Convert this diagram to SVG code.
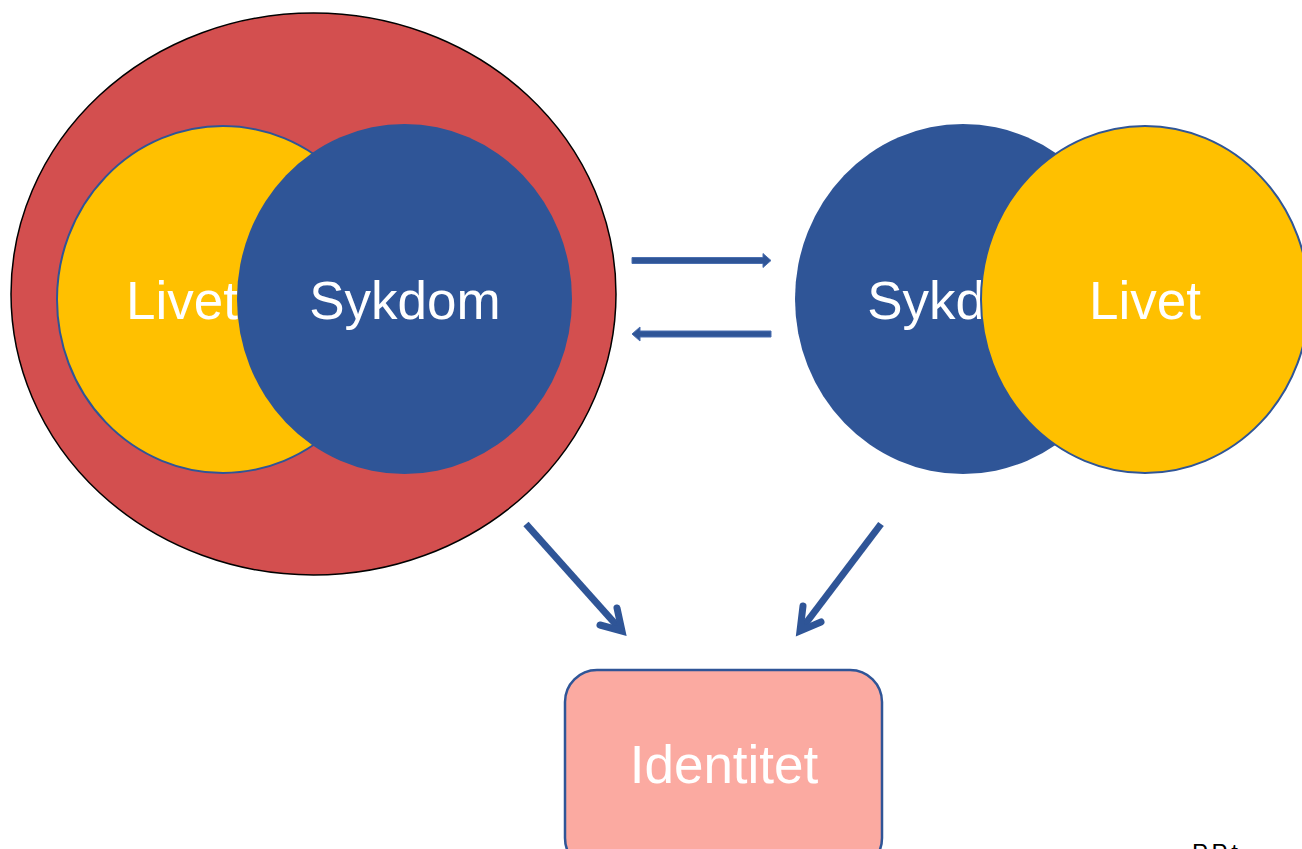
<svg xmlns="http://www.w3.org/2000/svg" width="1302" height="849" viewBox="0 0 1302 849">
<style>
.lbl{font-family:"Liberation Sans",Arial,sans-serif;font-size:53px;fill:#fff;text-anchor:middle}
.blue{fill:#2F5597}
.yel{fill:#FFC000;stroke:#2F5597;stroke-width:2}
.conn{stroke:#2F5597;stroke-width:7;fill:none;stroke-linecap:butt}
.head{stroke:#2F5597;stroke-width:7;fill:none;stroke-linecap:round;stroke-linejoin:miter}
.block{fill:#2F5597;stroke:#4A6FB0;stroke-width:1}
</style>
<rect width="1302" height="849" fill="#fff"/>
<g id="left-group">
<ellipse cx="313.5" cy="294" rx="302.5" ry="281" fill="#D34F4F" stroke="#000" stroke-width="1.5"/>
<ellipse class="yel" cx="223" cy="299.5" rx="166" ry="173.5"/>
<text class="lbl" x="182" y="319">Livet</text>
<ellipse class="blue" cx="404.5" cy="299" rx="167.5" ry="175"/>
<text class="lbl" x="405" y="319">Sykdom</text>
</g>
<g id="right-group">
<ellipse class="blue" cx="963" cy="299" rx="168" ry="175"/>
<text class="lbl" x="963" y="319">Sykdom</text>
<ellipse class="yel" cx="1145" cy="299.5" rx="164" ry="173.5"/>
<text class="lbl" x="1145" y="319">Livet</text>
</g>
<g id="identitet">
<rect x="565" y="670" width="317" height="200" rx="32" fill="#FBAAA1" stroke="#2F5597" stroke-width="2.5"/>
<text class="lbl" x="724" y="783">Identitet</text>
</g>
<g id="connectors">
<polygon class="block" points="632,257.5 763,257.5 763,253.5 771,260.5 763,267.5 763,263.5 632,263.5"/>
<polygon class="block" points="771,331 640,331 640,327 632,334 640,341 640,337 771,337"/>
<line class="conn" x1="526" y1="524" x2="619" y2="628"/>
<polyline class="head" points="617,608 622,631 600,625"/>
<line class="conn" x1="881" y1="524" x2="803" y2="627"/>
<polyline class="head" points="803,606 800,631 821,622"/>
</g>
<text x="1192" y="861" style="font-family:'Liberation Sans',Arial,sans-serif;font-size:24px;fill:#000">P.P.t</text>
</svg>
